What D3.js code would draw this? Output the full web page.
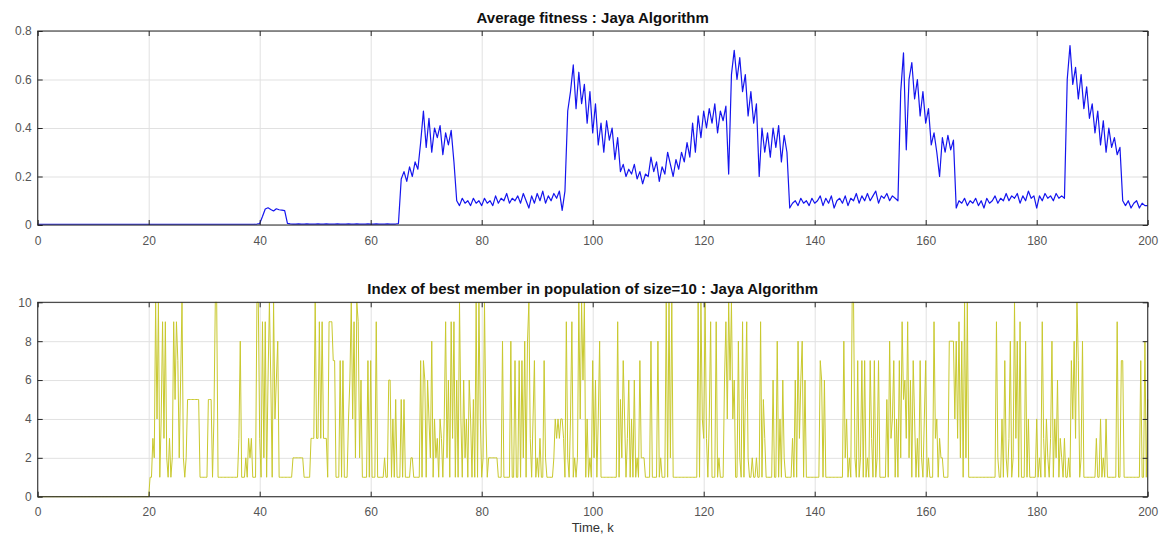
<!DOCTYPE html>
<html>
<head>
<meta charset="utf-8">
<script src="https://cdn.jsdelivr.net/npm/d3@7"></script>
<style>
  body { margin: 0; background: #fff; }
  svg { display: block; font-family: "Liberation Sans", Arial, Helvetica, sans-serif; }
</style>
</head>
<body>
<svg id="chart" width="1165" height="535"></svg>
<script>
// ---- data -------------------------------------------------------------
const xTicks = [0, 20, 40, 60, 80, 100, 120, 140, 160, 180, 200];
const fitnessTicks = [0, 0.2, 0.4, 0.6, 0.8];
const indexTicks = [0, 2, 4, 6, 8, 10];

const fitnessTitle = "Average fitness : Jaya Algorithm";
const indexTitle = "Index of best member in population of size=10 : Jaya Algorithm";
const xLabel = "Time, k";

// average fitness, sampled every 0.5 time steps (k = 0 .. 200)
const fitnessStep = 0.5;
const fitness = [
  0.003,0.003,0.003,0.003,0.003,0.003,0.003,0.003,0.003,0.003,0.003,0.003,0.003,0.003,0.003,0.003,0.003,0.003,0.003,0.003,
  0.003,0.003,0.003,0.003,0.003,0.003,0.003,0.003,0.003,0.003,0.003,0.003,0.003,0.003,0.003,0.003,0.003,0.003,0.003,0.003,
  0.003,0.003,0.003,0.003,0.003,0.003,0.003,0.003,0.003,0.003,0.003,0.003,0.003,0.003,0.003,0.003,0.003,0.003,0.003,0.003,
  0.003,0.003,0.003,0.003,0.003,0.003,0.003,0.003,0.003,0.003,0.003,0.003,0.003,0.003,0.003,0.003,0.003,0.003,0.003,0.004,
  0.006,0.035,0.066,0.071,0.064,0.058,0.067,0.063,0.061,0.059,0.007,0.005,0.004,0.004,0.005,0.004,0.004,0.005,0.004,0.004,
  0.004,0.005,0.004,0.004,0.005,0.004,0.004,0.004,0.005,0.004,0.004,0.004,0.005,0.004,0.004,0.005,0.004,0.004,0.004,0.005,
  0.004,0.004,0.005,0.004,0.004,0.004,0.005,0.004,0.004,0.004,0.006,0.19,0.22,0.18,0.24,0.2,0.26,0.23,0.34,0.47,
  0.32,0.44,0.3,0.4,0.36,0.41,0.29,0.38,0.33,0.39,0.26,0.1,0.08,0.11,0.09,0.1,0.08,0.11,0.09,0.1,
  0.08,0.11,0.09,0.1,0.08,0.12,0.09,0.11,0.1,0.13,0.09,0.11,0.1,0.12,0.09,0.13,0.1,0.07,0.12,0.09,
  0.13,0.1,0.14,0.09,0.12,0.1,0.13,0.11,0.14,0.06,0.14,0.47,0.55,0.66,0.48,0.63,0.5,0.58,0.42,0.55,
  0.38,0.5,0.33,0.42,0.3,0.43,0.35,0.4,0.27,0.36,0.22,0.25,0.2,0.23,0.21,0.25,0.19,0.22,0.17,0.21,
  0.2,0.28,0.22,0.26,0.18,0.24,0.21,0.3,0.25,0.2,0.27,0.23,0.3,0.26,0.34,0.28,0.42,0.3,0.45,0.36,
  0.47,0.4,0.48,0.42,0.5,0.38,0.47,0.43,0.49,0.21,0.62,0.72,0.6,0.69,0.55,0.62,0.45,0.55,0.42,0.5,
  0.2,0.4,0.3,0.38,0.28,0.4,0.32,0.41,0.26,0.37,0.3,0.07,0.09,0.1,0.08,0.11,0.09,0.1,0.08,0.11,
  0.09,0.1,0.12,0.08,0.11,0.09,0.12,0.07,0.1,0.11,0.09,0.12,0.08,0.11,0.1,0.13,0.09,0.12,0.1,0.13,
  0.1,0.12,0.14,0.09,0.12,0.11,0.13,0.1,0.12,0.11,0.1,0.55,0.71,0.31,0.6,0.67,0.52,0.6,0.45,0.55,
  0.42,0.48,0.33,0.38,0.3,0.2,0.36,0.3,0.37,0.31,0.35,0.07,0.1,0.09,0.11,0.08,0.1,0.09,0.11,0.08,
  0.1,0.07,0.11,0.09,0.1,0.12,0.09,0.11,0.1,0.13,0.1,0.12,0.11,0.13,0.09,0.12,0.1,0.14,0.11,0.12,
  0.07,0.12,0.1,0.13,0.11,0.12,0.1,0.13,0.11,0.12,0.11,0.6,0.74,0.58,0.65,0.52,0.62,0.48,0.57,0.44,
  0.5,0.38,0.47,0.33,0.43,0.3,0.4,0.32,0.36,0.29,0.32,0.1,0.08,0.1,0.07,0.09,0.1,0.07,0.09,0.08,
  0.08
];

// index of the best population member, sampled every 0.25 time steps (k = 0 .. 200)
const indexStep = 0.25;
const bestIndex = [
  0,0,0,0, 0,0,0,0, 0,0,0,0, 0,0,0,0, 0,0,0,0, 0,0,0,0, 0,0,0,0, 0,0,0,0, 0,0,0,0, 0,0,0,0,
  0,0,0,0, 0,0,0,0, 0,0,0,0, 0,0,0,0, 0,0,0,0, 0,0,0,0, 0,0,0,0, 0,0,0,0, 0,0,0,0, 0,0,0,0,
  0,1,1,3, 2,10,4,10, 1,4,9,3, 9,2,1,3, 1,2,9,5, 9,7,2,6, 10,2,1,2, 5,5,5,5, 5,5,5,5, 5,1,1,1,
  1,1,1,5, 5,5,1,4, 10,10,1,1, 1,1,1,1, 1,1,1,1, 1,1,1,1, 1,3,8,1, 1,1,2,1, 3,2,3,1, 1,1,10,10,
  3,1,9,2, 9,1,6,10, 6,1,10,4, 6,8,1,1, 1,1,1,1, 1,1,1,1, 2,2,2,2, 2,2,2,2, 1,1,1,1, 1,3,3,3,
  10,3,3,9, 3,9,3,3, 3,1,9,9, 9,7,7,1, 1,1,7,1, 7,1,1,1, 4,6,10,4, 9,2,10,9, 2,6,1,1, 1,1,7,1,
  7,1,1,1, 9,1,1,1, 1,1,2,1, 1,6,6,1, 4,1,5,1, 1,1,5,1, 5,1,1,1, 1,2,2,1, 1,1,1,1, 7,1,7,6,
  1,6,4,2, 8,1,4,2, 3,1,4,3, 1,4,9,2, 6,1,9,3, 9,1,6,1, 10,4,1,6, 2,4,1,6, 4,1,5,1, 10,1,10,4,
  1,2,10,4, 1,2,2,2, 2,2,2,2, 1,1,1,8, 1,1,1,1, 1,8,1,1, 7,1,1,7, 1,7,2,8, 1,8,10,3, 1,4,7,1,
  2,1,3,1, 1,7,2,1, 1,1,1,1, 2,4,3,4, 3,4,4,3, 1,9,2,1, 4,9,1,2, 1,2,10,4, 10,6,10,1, 4,1,2,1,
  7,2,6,1, 4,8,1,1, 1,1,1,1, 1,1,1,1, 1,1,9,1, 5,2,7,4, 1,3,6,1, 4,1,6,1, 2,1,7,2, 2,2,1,1,
  1,1,8,1, 1,1,1,8, 1,2,1,1, 1,10,1,10, 2,10,1,1, 1,1,1,1, 1,1,1,1, 1,1,1,1, 1,1,1,1, 10,1,10,4,
  3,10,3,1, 4,9,1,1, 1,9,1,2, 1,1,1,6, 9,4,10,6, 10,4,6,1, 1,8,2,1, 9,1,5,9, 2,1,1,2, 1,1,2,1,
  1,9,1,5, 3,1,1,1, 1,1,6,1, 1,8,1,4, 1,6,2,1, 1,1,1,1, 3,1,6,1, 8,3,6,8, 1,6,1,1, 1,1,1,1,
  1,1,1,1, 7,6,1,6, 1,1,1,1, 1,1,1,1, 1,1,1,1, 1,8,2,4, 1,2,1,10, 10,2,1,7, 1,2,7,1, 7,1,2,1,
  7,3,1,7, 1,2,7,1, 1,1,1,1, 5,1,8,3, 4,7,1,4, 1,7,2,9, 5,6,3,9, 2,6,1,7, 4,1,3,1, 7,2,1,4,
  7,1,2,1, 1,1,9,3, 4,1,3,2, 2,1,1,1, 1,8,8,8, 8,4,8,3, 9,2,8,1, 10,2,10,1, 1,1,1,1, 1,1,1,1,
  1,1,1,1, 1,1,1,1, 1,1,1,9, 2,1,1,4, 1,7,2,1, 3,8,1,2, 10,3,8,1, 9,1,1,1, 8,1,4,1, 1,1,1,1,
  4,1,2,1, 9,3,1,4, 2,1,3,8, 1,4,2,6, 1,3,2,1, 3,1,1,2, 1,7,4,8, 3,10,7,1, 2,8,1,1, 1,1,1,1,
  1,1,1,3, 1,1,4,1, 2,1,4,1, 1,1,1,1, 1,1,9,1, 1,7,7,1, 1,1,1,1, 1,1,1,1, 1,1,1,7, 1,1,8,1,
  5
];

// ---- layout -----------------------------------------------------------
const svg = d3.select("#chart");
const left = 37.7, right = 1147.7;

const x = d3.scaleLinear().domain([0, 200]).range([left, right]);

function drawPanel(opts) {
  const { top, bottom, yDomain, yTicks, yFormat, values, step, color, width, title } = opts;
  const y = d3.scaleLinear().domain(yDomain).range([bottom, top]);
  const h = bottom - top;
  const w = right - left;
  const g = svg.append("g");

  // background
  g.append("rect").attr("x", left).attr("y", top).attr("width", w).attr("height", h)
    .attr("fill", "#fff");

  // grid
  const gx = g.append("g").attr("transform", `translate(0,${bottom})`)
    .call(d3.axisBottom(x).tickValues(xTicks).tickSize(-h).tickFormat(""));
  const gy = g.append("g").attr("transform", `translate(${left},0)`)
    .call(d3.axisLeft(y).tickValues(yTicks).tickSize(-w).tickFormat(""));
  [gx, gy].forEach(a => {
    a.select(".domain").remove();
    a.selectAll("line").attr("stroke", "#e1e1e1").attr("stroke-width", 1);
  });

  // data line
  const line = d3.line()
    .x((d, i) => x(i * step))
    .y(d => y(d));
  g.append("path").datum(values)
    .attr("fill", "none")
    .attr("stroke", color)
    .attr("stroke-width", width)
    .attr("stroke-linejoin", "round")
    .attr("d", line);

  const axisColor = "#262626";
  const tickColor = "#555";

  // bottom axis with labels, inward ticks
  const ab = g.append("g").attr("transform", `translate(0,${bottom})`)
    .call(d3.axisBottom(x).tickValues(xTicks).tickSizeInner(-5).tickSizeOuter(0).tickPadding(11));
  // left axis with labels
  const al = g.append("g").attr("transform", `translate(${left},0)`)
    .call(d3.axisLeft(y).tickValues(yTicks).tickFormat(yFormat).tickSizeInner(-5).tickSizeOuter(0).tickPadding(6));
  // top and right axes, ticks only
  const at = g.append("g").attr("transform", `translate(0,${top})`)
    .call(d3.axisTop(x).tickValues(xTicks).tickSizeInner(-5).tickSizeOuter(0).tickFormat(""));
  const ar = g.append("g").attr("transform", `translate(${right},0)`)
    .call(d3.axisRight(y).tickValues(yTicks).tickSizeInner(-5).tickSizeOuter(0).tickFormat(""));

  [ab, al, at, ar].forEach(a => {
    a.select(".domain").remove();
    a.selectAll("line").attr("stroke", axisColor).attr("stroke-width", 1);
    a.selectAll("text").attr("fill", tickColor)
      .style("font-size", "12px")
      .style("font-family", "'Liberation Sans', Arial, sans-serif");
  });

  // axes box
  g.append("rect").attr("x", left).attr("y", top).attr("width", w).attr("height", h)
    .attr("fill", "none").attr("stroke", axisColor).attr("stroke-width", 1);

  // title
  g.append("text")
    .attr("x", (left + right) / 2).attr("y", top - 8)
    .attr("text-anchor", "middle")
    .attr("fill", "#111")
    .style("font-size", "15px").style("font-weight", "bold")
    .text(title);
}

drawPanel({
  top: 31, bottom: 225,
  yDomain: [0, 0.8], yTicks: fitnessTicks, yFormat: d => d === 0 ? "0" : d3.format(".1f")(d),
  values: fitness, step: fitnessStep, color: "#1515ee", width: 1.2, title: fitnessTitle
});

drawPanel({
  top: 302.3, bottom: 496.7,
  yDomain: [0, 10], yTicks: indexTicks, yFormat: d3.format("d"),
  values: bestIndex, step: indexStep, color: "#c9c92e", width: 1, title: indexTitle
});

// x-axis label of the lower panel
svg.append("text")
  .attr("x", (left + right) / 2).attr("y", 532)
  .attr("text-anchor", "middle")
  .attr("fill", "#333")
  .style("font-size", "13px")
  .text(xLabel);
</script>
</body>
</html>
